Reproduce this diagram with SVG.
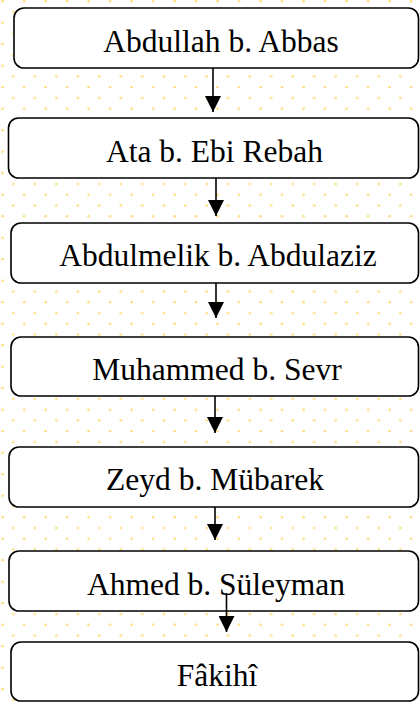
<svg xmlns="http://www.w3.org/2000/svg" width="420" height="702" viewBox="0 0 420 702">
<defs>
<pattern id="dots" x="0" y="0" width="21.5" height="21.5" patternUnits="userSpaceOnUse">
<circle cx="13.3" cy="12" r="1.3" fill="#FFDC7A"/>
<circle cx="2.6" cy="1.2" r="1.3" fill="#FFDC7A"/>
</pattern>
<marker id="arr" markerUnits="userSpaceOnUse" markerWidth="17" markerHeight="16" refX="16" refY="8" orient="auto" viewBox="0 0 17 16">
<path d="M0,0 L16,8 L0,16 Z" fill="#000"/>
</marker>
<style>
.box{fill:#fff;stroke:#000;stroke-width:1.6}
.lbl{font-family:"Liberation Serif","Times New Roman",serif;font-size:31.5px;fill:#000;text-anchor:middle}
.con{stroke:#000;stroke-width:1.6;fill:none}
</style>
</defs>
<rect width="420" height="702" fill="#fff"/>
<rect width="420" height="702" fill="url(#dots)"/>
<g id="n1"><rect class="box" x="14" y="8" width="404.5" height="60" rx="10"/><text class="lbl" x="221" y="52">Abdullah b. Abbas</text></g>
<g id="n2"><rect class="box" x="8.5" y="118" width="410" height="60" rx="10"/><text class="lbl" x="214.5" y="162">Ata b. Ebi Rebah</text></g>
<g id="n3"><rect class="box" x="11" y="223" width="407.5" height="60" rx="10"/><text class="lbl" x="218" y="266">Abdulmelik b. Abdulaziz</text></g>
<g id="n4"><rect class="box" x="11" y="337" width="407.5" height="59" rx="10"/><text class="lbl" x="217" y="379.5">Muhammed b. Sevr</text></g>
<g id="n5"><rect class="box" x="9" y="447" width="409.5" height="60" rx="10"/><text class="lbl" x="215" y="490">Zeyd b. Mübarek</text></g>
<g id="n6"><rect class="box" x="9" y="551" width="409.5" height="60" rx="10"/><text class="lbl" x="216" y="595">Ahmed b. Süleyman</text></g>
<g id="n7"><rect class="box" x="11" y="642" width="407.5" height="59" rx="10"/><text class="lbl" x="217" y="685.5">Fâkihî</text></g>
<g id="connectors">
<line class="con" x1="213" y1="68" x2="213" y2="112" marker-end="url(#arr)"/>
<line class="con" x1="216" y1="178" x2="216" y2="216" marker-end="url(#arr)"/>
<line class="con" x1="216" y1="283" x2="216" y2="318" marker-end="url(#arr)"/>
<line class="con" x1="215" y1="396" x2="215" y2="433" marker-end="url(#arr)"/>
<line class="con" x1="215" y1="507" x2="215" y2="540" marker-end="url(#arr)"/>
<line class="con" x1="226.5" y1="593" x2="226.5" y2="632" marker-end="url(#arr)"/>
</g>
</svg>
